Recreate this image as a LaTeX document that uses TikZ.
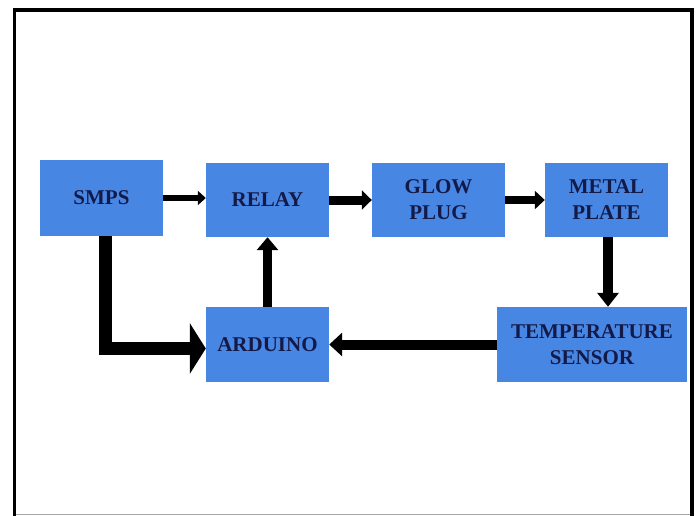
\documentclass[tikz,border=0pt]{standalone}
\usepackage{fontspec}
\setmainfont{Liberation Serif}
\usetikzlibrary{arrows.meta}
\definecolor{boxblue}{RGB}{72,134,228}
\definecolor{txtnavy}{RGB}{20,26,72}
\tikzset{
  blk/.style={rectangle, fill=boxblue, draw=none, inner sep=0pt, align=center,
    text=txtnavy, font=\bfseries\fontsize{21}{26}\selectfont},
  arr/.style={draw=black, line width=#1},
}
\begin{document}
\begin{tikzpicture}[x=1pt,y=-1pt]
\useasboundingbox (0,0) rectangle (698,516);
\fill[white] (0,0) rectangle (698,516);
% frame
\draw[line width=4.5pt] (12.5,9.8) -- (694,9.8);
\draw[line width=3.5pt] (14.6,8) -- (14.6,516);
\draw[line width=4pt] (692,8) -- (692,516);
\draw[line width=1pt, black!35] (16,514.5) -- (690,514.5);
% boxes
\node[blk, minimum width=123pt, minimum height=76pt] (smps) at (101.5,198) {SMPS};
\node[blk, minimum width=123pt, minimum height=74pt] (relay) at (267.5,200) {RELAY};
\node[blk, minimum width=133pt, minimum height=74pt] (glow) at (438.5,200) {GLOW\\PLUG};
\node[blk, minimum width=123pt, minimum height=74pt] (metal) at (606.5,200) {METAL\\PLATE};
\node[blk, minimum width=123pt, minimum height=75pt] (arduino) at (267.5,344.5) {ARDUINO};
\node[blk, minimum width=190pt, minimum height=75pt] (temp) at (592,344.5) {TEMPERATURE\\SENSOR};
% connectors
\draw[line width=6pt, -{Triangle[length=8pt,width=14pt]}]
  (smps.east) -- (smps.east -| relay.west);
\draw[line width=9pt, -{Triangle[length=10pt,width=19pt]}]
  (relay.east) -- (glow.west);
\draw[line width=8pt, -{Triangle[length=10pt,width=18pt]}]
  (glow.east) -- (metal.west);
\draw[line width=10pt, -{Triangle[length=14pt,width=21pt]}]
  ([xshift=1.5pt]metal.south) -- ([xshift=1.5pt]metal.south |- temp.north);
\draw[line width=10pt, -{Triangle[length=13pt,width=23pt]}]
  (temp.west) -- (arduino.east);
\draw[line width=9pt, -{Triangle[length=13pt,width=21pt]}]
  (arduino.north) -- (relay.south);
\draw[line width=13pt, -{Triangle[length=16pt,width=50pt]}]
  ([xshift=3.5pt]smps.south) |- ([yshift=-4pt]arduino.west);
\end{tikzpicture}
\end{document}
